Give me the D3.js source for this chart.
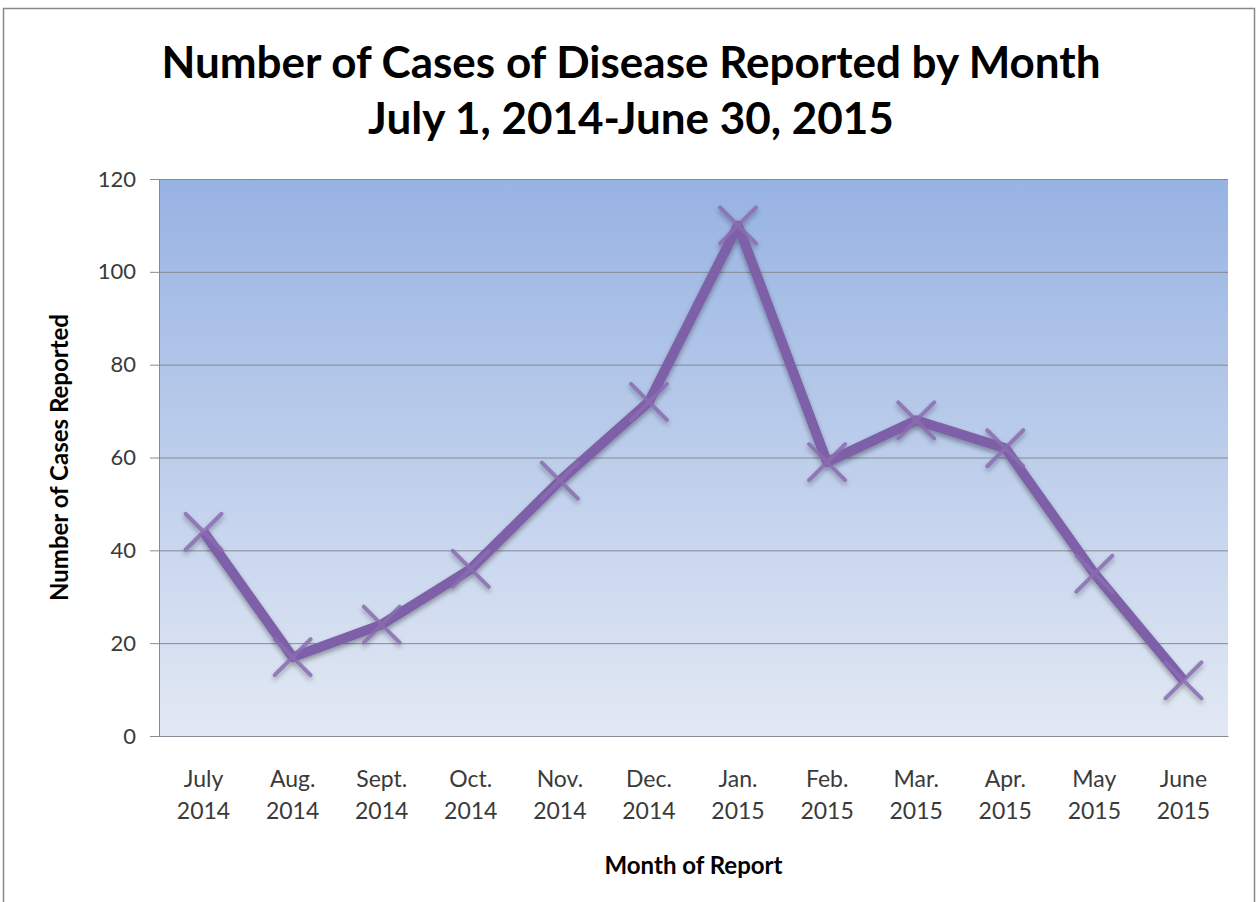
<!DOCTYPE html>
<html>
<head>
<meta charset="utf-8">
<script src="https://cdn.jsdelivr.net/npm/d3@7"></script>
<style>
  body { margin: 0; background: #fff; }
  svg { display: block; }
</style>
</head>
<body>
<div id="chart"></div>
<script>
// values
const months = ["July", "Aug.", "Sept.", "Oct.", "Nov.", "Dec.", "Jan.", "Feb.", "Mar.", "Apr.", "May", "June"];
const years = ["2014", "2014", "2014", "2014", "2014", "2014", "2015", "2015", "2015", "2015", "2015", "2015"];
const cases = [44, 17, 24, 36, 55, 72, 110, 59, 68, 62, 35, 12];
const yTicks = [0, 20, 40, 60, 80, 100, 120];

const W = 1257, H = 902;
const margin = {top: 179, right: 29, bottom: 166, left: 159};
const width = W - margin.left - margin.right,
  height = H - margin.top - margin.bottom;

const purple = "#7e60a8";
const font = "Lato, 'Open Sans', sans-serif";

const svg = d3.select("#chart").append("svg")
  .attr("width", W)
  .attr("height", H);

const defs = svg.append("defs");
const grad = defs.append("linearGradient")
  .attr("id", "bg").attr("x1", 0).attr("y1", 0).attr("x2", 0).attr("y2", 1);
grad.append("stop").attr("offset", "0%").attr("stop-color", "#97b3e3");
grad.append("stop").attr("offset", "100%").attr("stop-color", "#e3e9f4");

const shadow = defs.append("filter").attr("id", "shadow")
  .attr("x", "-10%").attr("y", "-10%").attr("width", "120%").attr("height", "130%");
shadow.append("feGaussianBlur").attr("in", "SourceAlpha").attr("stdDeviation", 2.5);
shadow.append("feOffset").attr("dx", 0).attr("dy", 3).attr("result", "b");
shadow.append("feComponentTransfer").append("feFuncA").attr("type", "linear").attr("slope", 0.35);
const merge = shadow.append("feMerge");
merge.append("feMergeNode");
merge.append("feMergeNode").attr("in", "SourceGraphic");

// outer frame
svg.append("rect")
  .attr("x", 3.5).attr("y", 8.5)
  .attr("width", 1251).attr("height", 900)
  .attr("fill", "#fff").attr("stroke", "#888").attr("stroke-width", 1.5);

// title
svg.append("text")
  .attr("x", 631).attr("y", 78)
  .attr("text-anchor", "middle")
  .style("font-family", font).style("font-weight", "bold").style("font-size", "44px")
  .text("Number of Cases of Disease Reported by Month");
svg.append("text")
  .attr("x", 631).attr("y", 134)
  .attr("text-anchor", "middle")
  .style("font-family", font).style("font-weight", "bold").style("font-size", "44px")
  .text("July 1, 2014-June 30, 2015");

const g = svg.append("g")
  .attr("transform", "translate(" + margin.left + "," + margin.top + ")");

const x = d3.scaleBand().domain(months.map((m, i) => i)).range([0, width]);
const y = d3.scaleLinear().domain([0, 120]).range([height, 0]);

g.append("rect")
  .attr("width", width).attr("height", height)
  .attr("fill", "url(#bg)");

// gridlines
g.append("g")
  .selectAll("line")
  .data(yTicks.filter(d => d > 0))
  .enter().append("line")
    .attr("x1", 0).attr("x2", width)
    .attr("y1", d => y(d) + 0.5).attr("y2", d => y(d) + 0.5)
    .attr("stroke", "#858a92").attr("stroke-width", 1);

// y axis
const yAxis = g.append("g")
  .call(d3.axisLeft(y).tickValues(yTicks).tickSize(9).tickPadding(14).tickFormat(d3.format("d")));
yAxis.select(".domain").attr("stroke", "#858a92");
yAxis.selectAll(".tick line").attr("stroke", "#858a92");
yAxis.selectAll("text")
  .style("font-family", font).style("font-size", "22px").attr("fill", "#3a3a3a");

// x axis
const xAxis = g.append("g")
  .attr("transform", "translate(0," + height + ")")
  .call(d3.axisBottom(x).tickSize(0).tickFormat(""));
xAxis.select(".domain").attr("stroke", "#858a92");
xAxis.selectAll(".tick").each(function(d, i) {
  const t = d3.select(this).append("text")
    .attr("fill", "#3a3a3a")
    .attr("text-anchor", "middle")
    .style("font-family", font).style("font-size", "23px");
  t.append("tspan").attr("x", 0).attr("y", 51).text(months[i]);
  t.append("tspan").attr("x", 0).attr("y", 83).text(years[i]);
});

// axis titles
svg.append("text")
  .attr("transform", "translate(68," + (margin.top + height / 2) + ") rotate(-90)")
  .attr("text-anchor", "middle")
  .style("font-family", font).style("font-weight", "bold").style("font-size", "24px")
  .text("Number of Cases Reported");
svg.append("text")
  .attr("x", margin.left + width / 2).attr("y", 874)
  .attr("text-anchor", "middle")
  .style("font-family", font).style("font-weight", "bold").style("font-size", "24px")
  .text("Month of Report");

// line
const line = d3.line()
  .x((d, i) => x(i) + x.bandwidth() / 2)
  .y(d => y(d));

const series = g.append("g").attr("filter", "url(#shadow)");
series.append("path")
  .datum(cases)
  .attr("fill", "none")
  .attr("stroke", purple)
  .attr("stroke-width", 10)
  .attr("stroke-linejoin", "round")
  .attr("d", line);

// x markers
const s = 18;
series.selectAll(".mark")
  .data(cases)
  .enter().append("path")
    .attr("class", "mark")
    .attr("transform", (d, i) => "translate(" + (x(i) + x.bandwidth() / 2) + "," + y(d) + ")")
    .attr("d", "M" + (-s) + "," + (-s) + "L" + s + "," + s + "M" + (-s) + "," + s + "L" + s + "," + (-s))
    .attr("stroke", "#8a6cb0")
    .attr("stroke-opacity", 0.85)
    .attr("stroke-width", 4)
    .attr("stroke-linecap", "round");
</script>
</body>
</html>
